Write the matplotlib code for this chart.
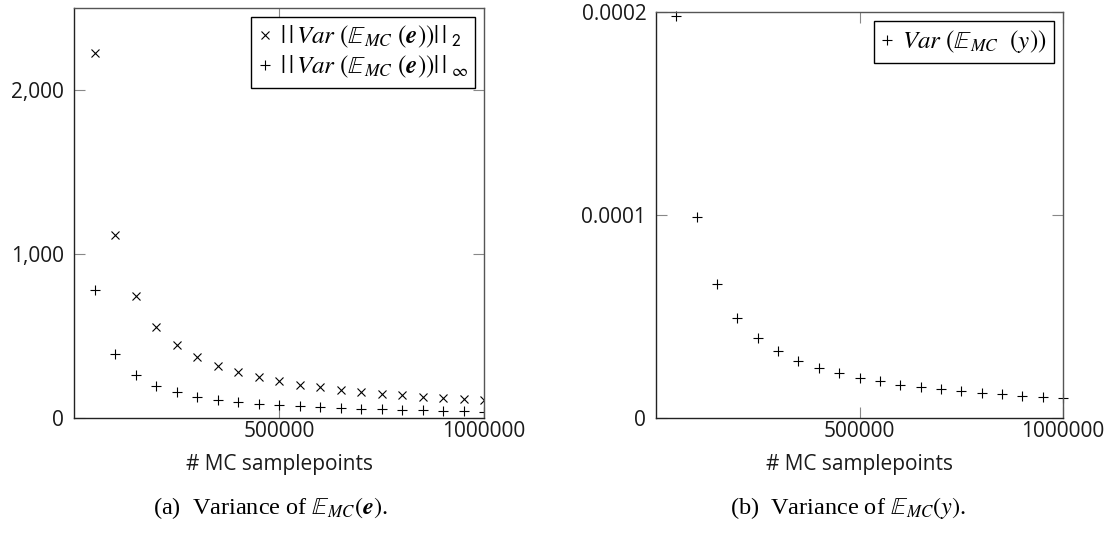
import numpy as np
import matplotlib
matplotlib.use('Agg')
import matplotlib.pyplot as plt
from matplotlib.ticker import FuncFormatter

plt.rcParams['font.family'] = ['Open Sans', 'DejaVu Sans']
plt.rcParams['mathtext.fontset'] = 'stix'

# MC sample counts
samples = [50000, 100000, 150000, 200000, 250000, 300000, 350000, 400000, 450000, 500000,
           550000, 600000, 650000, 700000, 750000, 800000, 850000, 900000, 950000, 1000000]

# left panel: norms of the variance of E_MC(e)
var_e_l2 = [2227, 1113, 742, 557, 445, 371, 318, 278, 247, 223,
            202, 186, 171, 159, 148, 139, 131, 124, 117, 111]
var_e_inf = [780, 390, 260, 195, 156, 130, 111, 98, 87, 78,
             71, 65, 60, 56, 52, 49, 46, 43, 41, 39]

# right panel: variance of E_MC(y)
var_y = [1.98e-4, 9.9e-5, 6.6e-5, 4.95e-5, 3.96e-5, 3.3e-5, 2.83e-5, 2.48e-5, 2.2e-5, 1.98e-5,
         1.8e-5, 1.65e-5, 1.52e-5, 1.41e-5, 1.32e-5, 1.24e-5, 1.16e-5, 1.1e-5, 1.04e-5, 9.9e-6]

xticks = [500000, 1000000]
yticks_left = [0, 1000, 2000]
yticks_right = [0, 0.0001, 0.0002]
yticklabels_right = ['0', '0.0001', '0.0002']

W, H = 1110, 533
fig = plt.figure(figsize=(W / 100, H / 100), dpi=100)

def px_axes(x0, y0, x1, y1):
    return fig.add_axes([x0 / W, 1 - y1 / H, (x1 - x0) / W, (y1 - y0) / H])

def style(ax):
    for name, s in ax.spines.items():
        s.set_linewidth(1.0)
        s.set_color('#222222' if name in ('left', 'bottom') else '#555555')
    ax.tick_params(direction='in', top=True, right=True, length=8, width=0.8,
                   color='#888888', labelsize=15, labelcolor='#1a1a1a')
    ax.tick_params(axis='x', pad=2)
    ax.tick_params(axis='y', pad=7)
    ax.set_xticks(xticks)
    ax.set_xlim(0, 1000000)
    ax.xaxis.set_major_formatter(FuncFormatter(lambda v, p: '%d' % v))
    ax.set_xlabel('# MC samplepoints', fontsize=15, labelpad=9, color='#1a1a1a')

leg_kw = dict(loc='upper right', frameon=True, fancybox=False, edgecolor='black',
              framealpha=1, fontsize=18, handlelength=0.5, handletextpad=0.35,
              borderpad=0.3, labelspacing=0.15, borderaxespad=0.35)

ax1 = px_axes(74, 8, 484, 418)
ax1.plot(samples, var_e_l2, linestyle='none', marker='x', color='black', ms=5.5, mew=0.8,
         label=r'$|\,|\,Var\ (\mathbb{E}_{MC}\ (\boldsymbol{e}))|\,|_{\ \mathsf{2}}$')
ax1.plot(samples, var_e_inf, linestyle='none', marker='+', color='black', ms=7, mew=0.8,
         label=r'$|\,|\,Var\ (\mathbb{E}_{MC}\ (\boldsymbol{e}))|\,|_{\ \infty}$')
ax1.set_ylim(0, 2500)
ax1.set_yticks(yticks_left)
ax1.yaxis.set_major_formatter(FuncFormatter(lambda v, p: '{:,.0f}'.format(v)))
style(ax1)
leg1 = ax1.legend(**leg_kw)
leg1.get_frame().set_linewidth(1.0)

ax2 = px_axes(656, 12, 1063, 418)
ax2.plot(samples, var_y, linestyle='none', marker='+', color='black', ms=7, mew=0.8,
         label=r'$Var\ (\mathbb{E}_{MC}\ \ (y))$', clip_on=False)
ax2.set_ylim(0, 0.0002)
ax2.set_yticks(yticks_right)
ax2.set_yticklabels(yticklabels_right)
style(ax2)
leg2 = ax2.legend(**leg_kw)
leg2.get_frame().set_linewidth(1.0)

fig.text(270 / W, 1 - 508 / H, r'(a)  Variance of $\mathbb{E}_{MC}(\boldsymbol{e})$.',
         ha='center', va='center', fontsize=17.5, family='Liberation Serif')
fig.text(848 / W, 1 - 508 / H, r'(b)  Variance of $\mathbb{E}_{MC}(y)$.',
         ha='center', va='center', fontsize=17.5, family='Liberation Serif')

fig.savefig('out.png', dpi=100)
